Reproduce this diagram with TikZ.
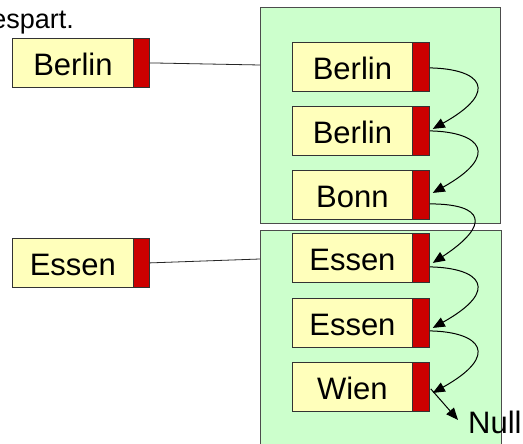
\documentclass[tikz,border=0pt]{standalone}
\usepackage{fontspec}
\setmainfont{Liberation Sans}
\usetikzlibrary{arrows.meta,calc}
\definecolor{ylw}{RGB}{255,255,187}
\definecolor{rd}{RGB}{204,0,0}
\definecolor{grn}{RGB}{204,255,204}
\tikzset{
  cell/.style={draw=black!80, fill=ylw, line width=0.8bp, minimum width=120bp, minimum height=49bp,
    inner sep=0pt, anchor=north west, text height=26bp, text depth=0bp,
    font=\fontsize{31bp}{36bp}\selectfont},
  ptr/.style={draw=black!80, fill=rd, line width=0.8bp, minimum width=17bp, minimum height=49bp,
    inner sep=0pt, anchor=north west},
  bucket/.style={draw=black!70, fill=grn, line width=1bp, inner sep=0pt, anchor=north west},
  link/.style={-{Triangle[length=12bp,width=10bp]}, line width=1bp, black},
  plain/.style={line width=0.8bp, black!85},
  lbl/.style={font=\fontsize{31bp}{36bp}\selectfont, inner sep=0pt},
  headtext/.style={font=\fontsize{27bp}{32bp}\selectfont, inner sep=0pt},
}
\begin{document}
\begin{tikzpicture}[x=1bp,y=-1bp]
\useasboundingbox (0,0) rectangle (523,444);
\clip (0,0) rectangle (523,444);
\fill[white] (0,0) rectangle (523,444);
% partial heading text
\node[headtext, anchor=base east] (head) at (74,29) {espart.};
% buckets
\node[bucket, minimum width=240bp, minimum height=216bp] (g1) at (260,7) {};
\node[bucket, minimum width=241bp, minimum height=240bp] (g2) at (260,230) {};
% left entries
\node[cell, minimum width=121bp] (lb1) at (12,38) {Berlin};
\node[ptr, minimum width=16bp] (lr1) at (133,38) {};
\node[cell, minimum width=121bp] (lb2) at (12,238) {Essen};
\node[ptr, minimum width=16bp] (lr2) at (133,238) {};
% list cells
\node[cell] (c1) at (292,42) {Berlin};   \node[ptr] (r1) at (412,42) {};
\node[cell] (c2) at (292,106) {Berlin};  \node[ptr] (r2) at (412,106) {};
\node[cell] (c3) at (292,170) {Bonn};    \node[ptr] (r3) at (412,170) {};
\node[cell] (c4) at (292,233) {Essen};   \node[ptr] (r4) at (412,233) {};
\node[cell] (c5) at (292,298) {Essen};   \node[ptr] (r5) at (412,298) {};
\node[cell] (c6) at (292,362) {Wien};    \node[ptr] (r6) at (412,362) {};
% connectors from left entries
\coordinate (e1) at ($(g1.north west)+(0,58)$);
\coordinate (e2) at ($(g2.north west)+(0,29)$);
\draw[plain] (lr1.east) -- (e1);
\draw[plain] (lr2.east) -- (e2);
% chain links
\draw[link] ($(r1.east)+(0,1)$) .. controls +(51,1) and +(68,-38) .. ($(r2.east)+(3,-2)$);
\draw[link] ($(r2.east)+(0,0)$) .. controls +(51,1) and +(68,-38) .. ($(r3.east)+(3,-2)$);
\draw[link] ($(r3.east)+(0,9)$) .. controls +(55,0) and +(58,-38) .. ($(r4.east)+(3,5)$);
\draw[link] ($(r4.east)+(0,9)$) .. controls +(51,1) and +(68,-38) .. ($(r5.east)+(3,5)$);
\draw[link] ($(r5.east)+(0,8)$) .. controls +(51,1) and +(68,-38) .. ($(r6.east)+(3,6)$);
% null pointer
\node[lbl, anchor=base west] (null) at (468,433) {Null};
\coordinate (nullend) at ($(null.west)+(-10,-2)$);
\draw[link] ($(r6.east)+(1,2)$) -- (nullend);
\end{tikzpicture}
\end{document}
